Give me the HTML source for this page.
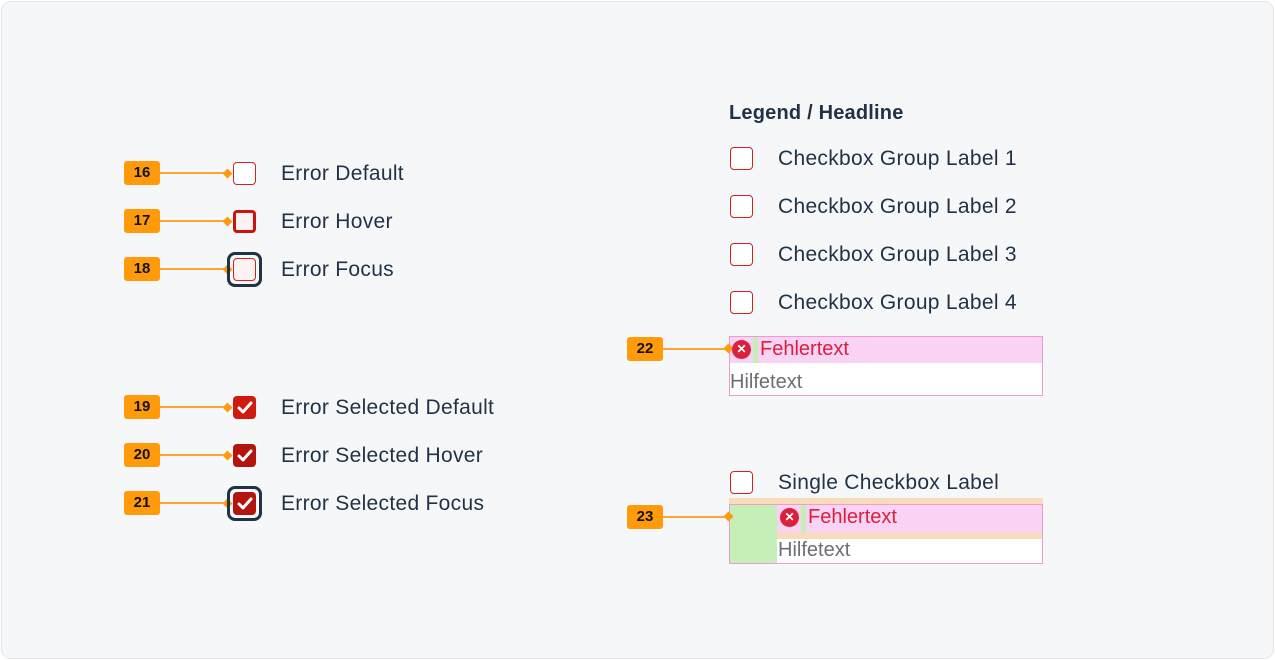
<!DOCTYPE html>
<html><head><meta charset="utf-8"><style>
*{box-sizing:border-box;margin:0;padding:0}
body{width:1275px;height:660px;background:#fff;font-family:"Liberation Sans",sans-serif;position:relative;overflow:hidden}
.frame{position:absolute;left:1px;top:1px;width:1273px;height:658px;background:#f6f7f9;border:1px solid #e3e5e8;border-radius:10px}
.a{position:absolute}
.badge{position:absolute;width:36px;height:24px;background:#ff9b0a;border-radius:3px;font-weight:bold;font-size:15px;color:#111;text-align:center;line-height:24px}
.ln{position:absolute;height:2px;background:#ffa333}
.dm{position:absolute;width:7px;height:7px;background:#ff9b0a;transform:rotate(45deg)}
.cb{position:absolute;width:23px;height:23px;border:1.5px solid #d0231c;border-radius:4px;background:#fff}
.lbl{position:absolute;font-size:21px;color:#1f3246;line-height:24px;white-space:nowrap;letter-spacing:0.3px;margin-top:1px}
.chk{position:absolute;width:23px;height:23px;border-radius:4px;background:#c8160f}
.foc{position:absolute;width:35px;height:35px;border:3px solid #1f3246;border-radius:8px}
.err{position:absolute;width:19px;height:19px;border-radius:50%;background:#d9203d;color:#fff;font-size:12px;text-align:center;line-height:19px;font-weight:bold}
.ft{position:absolute;font-size:20px;color:#d9203d;line-height:24px}
.ht{position:absolute;font-size:20px;color:#6b6f75;line-height:24px}
</style></head><body>
<div class="frame"></div>

<div class="badge" style="left:124px;top:161px">16</div><div class="ln" style="left:160px;top:172px;width:66px"></div><div class="dm" style="left:224px;top:170px"></div>
<div class="cb" style="left:233px;top:162px"></div><div class="lbl" style="left:281px;top:161px">Error Default</div>

<div class="badge" style="left:124px;top:209px">17</div><div class="ln" style="left:160px;top:220px;width:66px"></div><div class="dm" style="left:224px;top:218px"></div>
<div class="cb" style="left:233px;top:210px;border:3px solid #c8160f;background:#fdf2f2"></div><div class="lbl" style="left:281px;top:209px">Error Hover</div>

<div class="badge" style="left:124px;top:257px">18</div><div class="ln" style="left:160px;top:268px;width:66px"></div><div class="dm" style="left:224px;top:266px"></div>
<div class="foc" style="left:227px;top:252px"></div>
<div class="cb" style="left:233px;top:258px;background:#fdf2f2"></div><div class="lbl" style="left:281px;top:257px">Error Focus</div>

<div class="badge" style="left:124px;top:395px">19</div><div class="ln" style="left:160px;top:406px;width:66px"></div><div class="dm" style="left:224px;top:404px"></div>
<div class="chk" style="left:233px;top:396px;background:#d0190f"><svg width="23" height="23"><path d="M6 12l4 4 8-9" stroke="#fff" stroke-width="3" fill="none" stroke-linecap="round" stroke-linejoin="round"/></svg></div>
<div class="lbl" style="left:281px;top:395px">Error Selected Default</div>

<div class="badge" style="left:124px;top:443px">20</div><div class="ln" style="left:160px;top:454px;width:66px"></div><div class="dm" style="left:224px;top:452px"></div>
<div class="chk" style="left:233px;top:444px;background:#b3140e"><svg width="23" height="23"><path d="M6 12l4 4 8-9" stroke="#fff" stroke-width="3" fill="none" stroke-linecap="round" stroke-linejoin="round"/></svg></div>
<div class="lbl" style="left:281px;top:443px">Error Selected Hover</div>

<div class="badge" style="left:124px;top:491px">21</div><div class="ln" style="left:160px;top:502px;width:66px"></div><div class="dm" style="left:224px;top:500px"></div>
<div class="foc" style="left:227px;top:486px"></div>
<div class="chk" style="left:233px;top:492px;background:#b3140e"><svg width="23" height="23"><path d="M6 12l4 4 8-9" stroke="#fff" stroke-width="3" fill="none" stroke-linecap="round" stroke-linejoin="round"/></svg></div>
<div class="lbl" style="left:281px;top:491px">Error Selected Focus</div>

<div class="lbl" style="left:729px;top:100px;font-weight:bold;font-size:20px;letter-spacing:0.2px">Legend / Headline</div>
<div class="cb" style="left:730px;top:147px"></div><div class="lbl" style="left:778px;top:146px">Checkbox Group Label 1</div>
<div class="cb" style="left:730px;top:195px"></div><div class="lbl" style="left:778px;top:194px">Checkbox Group Label 2</div>
<div class="cb" style="left:730px;top:243px"></div><div class="lbl" style="left:778px;top:242px">Checkbox Group Label 3</div>
<div class="cb" style="left:730px;top:291px"></div><div class="lbl" style="left:778px;top:290px">Checkbox Group Label 4</div>

<div class="badge" style="left:627px;top:337px">22</div><div class="ln" style="left:663px;top:348px;width:64px"></div>
<div class="a" style="left:729px;top:336px;width:314px;height:60px;border:1px solid #f29ad0;background:#fff"></div>
<div class="a" style="left:730px;top:337px;width:312px;height:26px;background:#f8d3f3"></div>
<div class="a" style="left:753px;top:337px;width:5px;height:26px;background:#c5efb8"></div>
<div class="dm" style="left:725px;top:345px"></div>
<div class="err" style="left:732px;top:340px">✕</div>
<div class="ft" style="left:760px;top:337px">Fehlertext</div>
<div class="ht" style="left:730px;top:370px">Hilfetext</div>

<div class="cb" style="left:730px;top:471px"></div><div class="lbl" style="left:778px;top:470px">Single Checkbox Label</div>
<div class="a" style="left:729px;top:498px;width:314px;height:6px;background:#f8dbb8"></div>
<div class="badge" style="left:627px;top:505px">23</div><div class="ln" style="left:663px;top:516px;width:64px"></div>
<div class="a" style="left:729px;top:504px;width:314px;height:60px;border:1px solid #f29ad0;background:#fff"></div>
<div class="a" style="left:730px;top:505px;width:47px;height:58px;background:#c5efb8"></div>
<div class="a" style="left:777px;top:505px;width:265px;height:28px;background:#f8d3f3"></div>
<div class="a" style="left:801px;top:505px;width:5px;height:28px;background:#c5efb8"></div>
<div class="a" style="left:777px;top:533px;width:265px;height:6px;background:#f8dbb8"></div>
<div class="dm" style="left:725px;top:513px"></div>
<div class="err" style="left:780px;top:508px">✕</div>
<div class="ft" style="left:808px;top:505px">Fehlertext</div>
<div class="ht" style="left:778px;top:538px">Hilfetext</div>
</body></html>
